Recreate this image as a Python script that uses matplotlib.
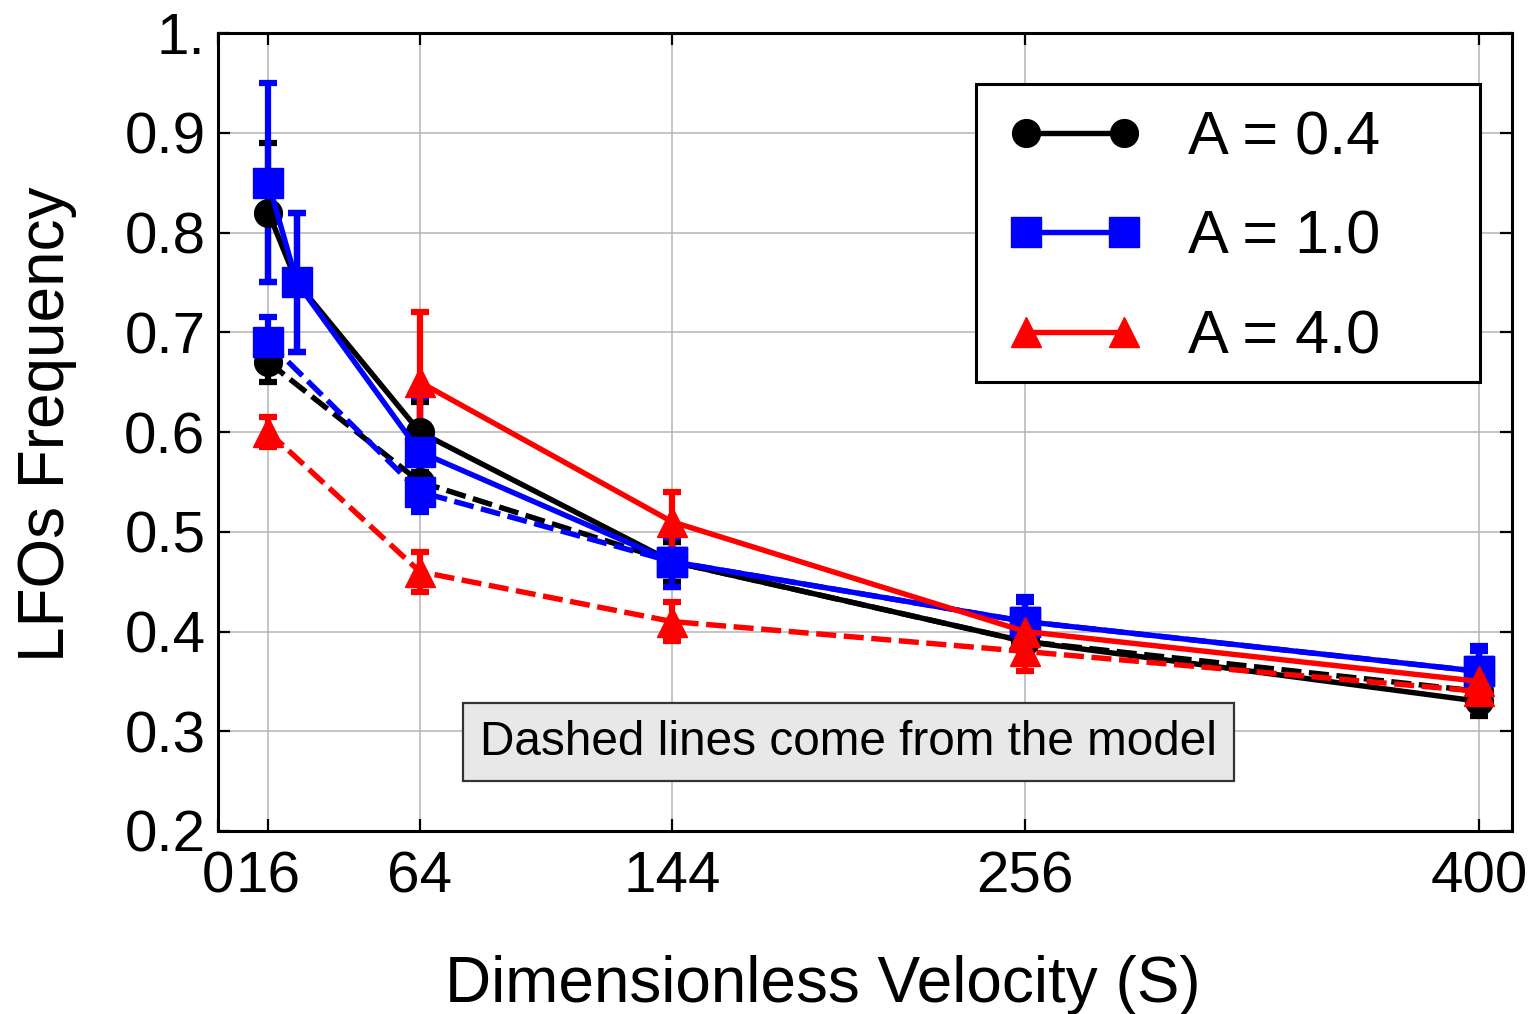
import numpy as np
import matplotlib
matplotlib.use('Agg')
import matplotlib.pyplot as plt
from matplotlib.patches import Rectangle

plt.rcParams['font.family'] = ['Liberation Sans', 'DejaVu Sans']

# experiment (solid) and model (dashed) data
s_exp_04 = [16, 25, 64, 144, 256, 400]
f_exp_04 = [0.82, 0.75, 0.60, 0.47, 0.39, 0.33]
e_exp_04 = [0.07, 0.07, 0.03, 0.02, 0.02, 0.015]

s_exp_10 = [16, 25, 64, 144, 256, 400]
f_exp_10 = [0.85, 0.75, 0.58, 0.47, 0.41, 0.36]
e_exp_10 = [0.10, 0.07, 0.055, 0.025, 0.025, 0.025]

s_exp_40 = [64, 144, 256, 400]
f_exp_40 = [0.65, 0.51, 0.40, 0.35]
e_exp_40 = [0.07, 0.03, 0.02, 0.015]

s_mod = [16, 64, 144, 256, 400]
f_mod_04 = [0.67, 0.55, 0.47, 0.39, 0.34]
e_mod_04 = [0.02, 0.025, 0.02, 0.02, 0.02]
f_mod_10 = [0.69, 0.54, 0.47, 0.41, 0.36]
e_mod_10 = [0.025, 0.02, 0.025, 0.02, 0.02]
f_mod_40 = [0.60, 0.46, 0.41, 0.38, 0.34]
e_mod_40 = [0.015, 0.02, 0.02, 0.02, 0.02]

xticks = [0, 16, 64, 144, 256, 400]
yticks = [0.2, 0.3, 0.4, 0.5, 0.6, 0.7, 0.8, 0.9, 1.0]
ylabels = ['0.2', '0.3', '0.4', '0.5', '0.6', '0.7', '0.8', '0.9', '1.']
labels = ['A = 0.4', 'A = 1.0', 'A = 4.0']

fig = plt.figure(figsize=(15.37, 10.14), dpi=100)
ax = fig.add_axes([218/1537, 1-831/1014, 1294/1537, 798/1014])


def draw(x, y, e, c, m, ms, dashed=False):
    eb = ax.errorbar(x, y, yerr=e, color=c, marker=m, ms=ms, lw=3.9,
                     elinewidth=4.5, capsize=6.5, capthick=4.5, zorder=3)
    if dashed:
        eb[0].set_dashes((3.7, 1.4))
    return eb


h1 = draw(s_exp_04, f_exp_04, e_exp_04, 'k', 'o', 20)
draw(s_mod, f_mod_04, e_mod_04, 'k', 'o', 20, dashed=True)
h2 = draw(s_exp_10, f_exp_10, e_exp_10, '#0000ff', 's', 21)
draw(s_mod, f_mod_10, e_mod_10, '#0000ff', 's', 21, dashed=True)
h3 = draw(s_exp_40, f_exp_40, e_exp_40, '#ff0000', '^', 21)
draw(s_mod, f_mod_40, e_mod_40, '#ff0000', '^', 21, dashed=True)

ax.set_xlim(0, 410.4)
ax.set_ylim(0.2, 1.0)
ax.set_xticks(xticks)
ax.set_xticklabels([str(v) for v in xticks])
ax.set_yticks(yticks)
ax.set_yticklabels(ylabels)
ax.grid(True, color='#b4b4b4', lw=1.1, zorder=0)
ax.set_axisbelow(True)

ax.tick_params(axis='both', direction='in', length=8.5, width=1.6,
               top=True, right=True, labelsize=42)
ax.tick_params(axis='x', pad=14)
ax.tick_params(axis='y', pad=9)
for spi in ['bottom', 'left', 'top', 'right']:
    ax.spines[spi].set_linewidth(2.2)

ax.set_xlabel('Dimensionless Velocity (S)', fontsize=46)
ax.set_ylabel('LFOs Frequency', fontsize=46)
ax.xaxis.set_label_coords(0.4675, -0.155)
ax.yaxis.set_label_coords(-0.109, 0.51)

# legend frame drawn by hand (wide right margin as in the original)
ax.add_patch(Rectangle((0.5858, 0.5627), 0.3895, 0.3734, transform=ax.transAxes,
                       facecolor='white', edgecolor='k', lw=2.2, zorder=5))
leg = ax.legend([h1[0], h2[0], h3[0]], labels, loc='upper left',
                bbox_to_anchor=(0.6105, 0.9035), numpoints=2, fontsize=44,
                handlelength=2.2, handletextpad=0.75, labelspacing=0.70,
                borderpad=0, borderaxespad=0, frameon=False)
leg.set_zorder(6)

ax.text(0.4873, 0.1115, 'Dashed lines come from the model', transform=ax.transAxes,
        ha='center', va='center', fontsize=34.4, zorder=6,
        bbox=dict(boxstyle='square,pad=0.35', facecolor='#e8e8e8',
                  edgecolor='#333333', lw=1.6))

plt.savefig('out.png', dpi=100)
